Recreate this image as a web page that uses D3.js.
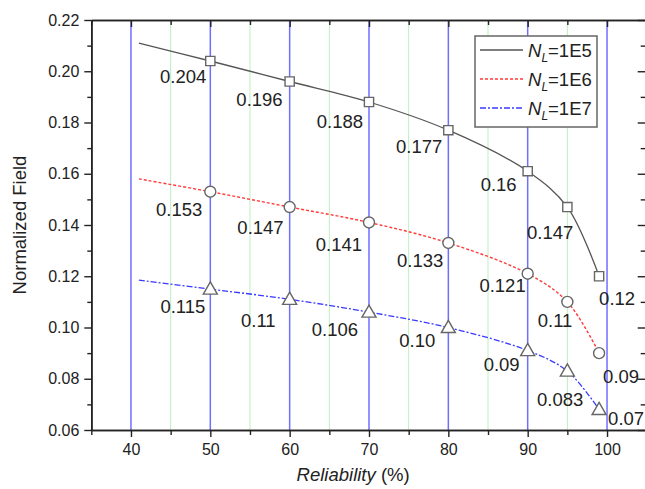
<!DOCTYPE html>
<html>
<head>
<meta charset="utf-8">
<script src="https://cdn.jsdelivr.net/npm/d3@7"></script>
<style>
  html, body { margin: 0; padding: 0; background: #fff; }
  svg { display: block; font-family: Arial, "Liberation Sans", Helvetica, sans-serif; }
</style>
</head>
<body>
<svg id="chart" width="645" height="489"></svg>
<script>
// ---------- data ----------
const reliability = [50, 60, 70, 80, 90, 95, 99];
const curveStartX = 41;
const seriesNames = ["1E5", "1E6", "1E7"];
const field1E5 = [0.204, 0.196, 0.188, 0.177, 0.161, 0.147, 0.120];
const field1E6 = [0.153, 0.147, 0.141, 0.133, 0.121, 0.110, 0.090];
const field1E7 = [0.115, 0.111, 0.106, 0.100, 0.091, 0.083, 0.068];
const curveStart = [0.211, 0.158, 0.1185];
const labels1E5 = ["0.204", "0.196", "0.188", "0.177", "0.16", "0.147", "0.12"];
const labels1E6 = ["0.153", "0.147", "0.141", "0.133", "0.121", "0.11", "0.09"];
const labels1E7 = ["0.115", "0.11", "0.106", "0.10", "0.09", "0.083", "0.07"];
const xMajorTicks = [40, 50, 60, 70, 80, 90, 100];
const xMinorTicks = [35, 45, 55, 65, 75, 85, 95, 105];
const yMajorTicks = [0.06, 0.08, 0.10, 0.12, 0.14, 0.16, 0.18, 0.20, 0.22];
const yMinorTicks = [0.07, 0.09, 0.11, 0.13, 0.15, 0.17, 0.19, 0.21];

// ---------- layout (pixel offsets for value labels: [anchor, dx, dy]) ----------
const labelOffsets = [
  [["end",-4,22],["end",-7,24],["end",-6,26],["end",-6,23],["end",-11,20],["end",6,32],["start",0,29]],
  [["end",-8,24],["end",-6,27],["end",-7,29],["end",-5,24],["end",-2,18],["end",5,25],["start",4,30]],
  [["end",-5,24],["end",-14,28],["end",-11,24],["end",-13,19],["end",-8,20],["end",16,35],["start",9,15]]
];

(function () {
const svg = d3.select("#chart");
const pL = 91.3, pR = 646.7, pT = 20, pB = 430;
const x = d3.scaleLinear().domain([35, 105]).range([pL, pR]);
const y = d3.scaleLinear().domain([0.06, 0.22]).range([pB, pT]);

// grid lines
svg.append("g").selectAll("line").data(xMinorTicks.filter(d => d > 35 && d < 105)).join("line")
  .attr("x1", d => x(d)).attr("x2", d => x(d)).attr("y1", pT).attr("y2", pB)
  .attr("stroke", "#bfeebf").attr("stroke-width", 1);
svg.append("g").selectAll("line").data(xMajorTicks).join("line")
  .attr("x1", d => x(d)).attr("x2", d => x(d)).attr("y1", pT).attr("y2", pB)
  .attr("stroke", "#6f6fff").attr("stroke-width", 1.5);

// axes
const fmtY = d3.format(".2f");
const axisStyle = g => {
  g.select(".domain").attr("stroke", "#222").attr("stroke-width", 1.6);
  g.selectAll(".tick line").attr("stroke", "#222").attr("stroke-width", 1.4);
  g.selectAll(".tick text").attr("fill", "#222").style("font-size", "16px")
    .style("font-family", "Arial, 'Liberation Sans', sans-serif");
};
svg.append("g").attr("transform", `translate(0,${pB})`)
  .call(d3.axisBottom(x).tickValues(xMajorTicks).tickSize(7).tickPadding(7).tickSizeOuter(0))
  .call(axisStyle);
svg.append("g").attr("transform", `translate(0,${pB})`)
  .call(d3.axisBottom(x).tickValues(xMinorTicks).tickSize(5).tickFormat("").tickSizeOuter(0))
  .call(axisStyle);
svg.append("g").attr("transform", `translate(0,${pT})`)
  .call(d3.axisTop(x).tickValues(xMajorTicks).tickSize(-7).tickFormat("").tickSizeOuter(0))
  .call(axisStyle);
svg.append("g").attr("transform", `translate(0,${pT})`)
  .call(d3.axisTop(x).tickValues(xMinorTicks).tickSize(-5).tickFormat("").tickSizeOuter(0))
  .call(axisStyle);
svg.append("g").attr("transform", `translate(${pL},0)`)
  .call(d3.axisLeft(y).tickValues(yMajorTicks).tickSize(7).tickPadding(5).tickFormat(fmtY).tickSizeOuter(0))
  .call(axisStyle);
svg.append("g").attr("transform", `translate(${pL},0)`)
  .call(d3.axisLeft(y).tickValues(yMinorTicks).tickSize(4).tickFormat("").tickSizeOuter(0))
  .call(axisStyle);
svg.append("g").attr("transform", `translate(${pR},0)`)
  .call(d3.axisRight(y).tickValues(yMajorTicks).tickSize(-9).tickFormat("").tickSizeOuter(0))
  .call(axisStyle);
svg.append("g").attr("transform", `translate(${pR},0)`)
  .call(d3.axisRight(y).tickValues(yMinorTicks).tickSize(-6).tickFormat("").tickSizeOuter(0))
  .call(axisStyle);

// axis titles
svg.append("text").attr("transform", `translate(26,${(pT + pB) / 2}) rotate(-90)`)
  .attr("text-anchor", "middle").attr("fill", "#222").style("font-size", "18.5px")
  .text("Normalized Field");
const xt = svg.append("text").attr("x", (pL + 607) / 2 + 4).attr("y", 481)
  .attr("text-anchor", "middle").attr("fill", "#222").style("font-size", "18.5px");
xt.append("tspan").style("font-style", "italic").text("Reliability");
xt.append("tspan").text(" (%)");

// series
const seriesValues = [field1E5, field1E6, field1E7];
const seriesLabels = [labels1E5, labels1E6, labels1E7];
const lineStyles = [
  { color: "#555555", dash: null, width: 1.3 },
  { color: "#ff3b3b", dash: "3,2", width: 1.4 },
  { color: "#3a3aff", dash: "6,2,2,2", width: 1.3 }
];
const markerTypes = [d3.symbolSquare, d3.symbolCircle, d3.symbolTriangle];
const markerSizes = [85, 95, 85];

const line = d3.line().x(d => x(d[0])).y(d => y(d[1])).curve(d3.curveCatmullRom.alpha(0.5));

seriesValues.forEach((vals, i) => {
  const pts = [[curveStartX, curveStart[i]]].concat(reliability.map((r, j) => [r, vals[j]]));
  svg.append("path").datum(pts).attr("d", line)
    .attr("fill", "none").attr("stroke", lineStyles[i].color)
    .attr("stroke-width", lineStyles[i].width)
    .attr("stroke-dasharray", lineStyles[i].dash);
});

seriesValues.forEach((vals, i) => {
  const sym = d3.symbol().type(markerTypes[i]).size(markerSizes[i]);
  svg.append("g").selectAll("path").data(reliability.map((r, j) => [r, vals[j]])).join("path")
    .attr("d", sym)
    .attr("transform", d => `translate(${x(d[0])},${y(d[1]) + (i === 2 ? 1 : 0)})`)
    .attr("fill", "#fff").attr("stroke", "#666").attr("stroke-width", 1.4);
});

seriesLabels.forEach((labs, i) => {
  svg.append("g").selectAll("text").data(labs).join("text")
    .attr("x", (d, j) => x(reliability[j]) + labelOffsets[i][j][1])
    .attr("y", (d, j) => y(seriesValues[i][j]) + labelOffsets[i][j][2])
    .attr("text-anchor", (d, j) => labelOffsets[i][j][0])
    .attr("fill", "#222").style("font-size", "18.5px")
    .text(d => d);
});

// legend
const lg = svg.append("g");
lg.append("rect").attr("x", 475).attr("y", 36).attr("width", 122).attr("height", 91)
  .attr("fill", "#fff").attr("stroke", "#666").attr("stroke-width", 1.5);
const rowY = [50, 79, 108];
seriesNames.forEach((name, i) => {
  lg.append("line").attr("x1", 480).attr("x2", 523).attr("y1", rowY[i]).attr("y2", rowY[i])
    .attr("stroke", lineStyles[i].color).attr("stroke-width", lineStyles[i].width)
    .attr("stroke-dasharray", lineStyles[i].dash);
  const t = lg.append("text").attr("x", 528).attr("y", rowY[i] + 7)
    .attr("fill", "#222").style("font-size", "18.5px");
  t.append("tspan").style("font-style", "italic").text("N");
  t.append("tspan").style("font-style", "italic").style("font-size", "12px").attr("dy", 5).text("L");
  t.append("tspan").attr("dy", -5).text("=" + name);
});
})();
</script>
</body>
</html>
